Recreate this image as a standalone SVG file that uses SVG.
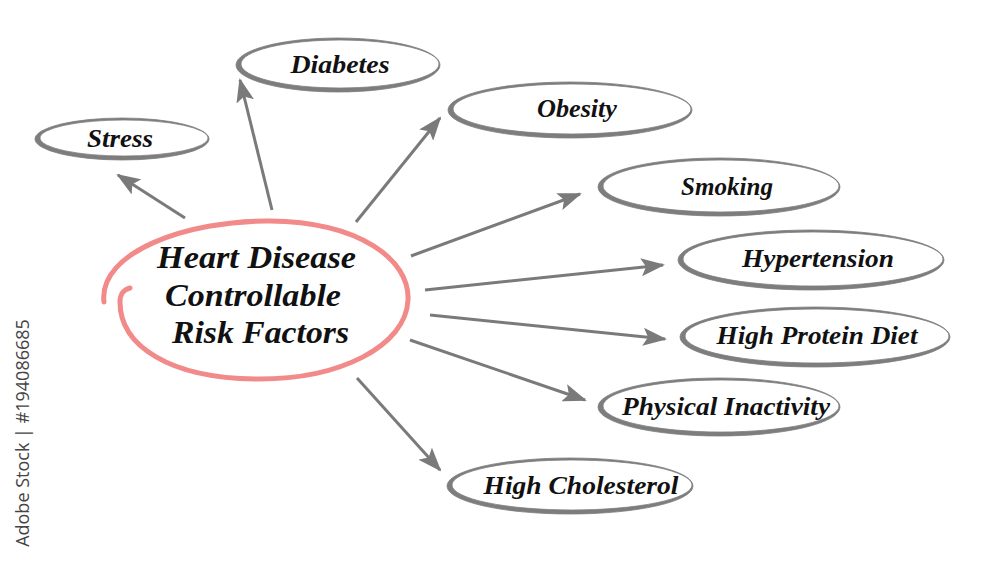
<svg xmlns="http://www.w3.org/2000/svg" width="1000" height="562" viewBox="0 0 1000 562">
<style>
.ring{fill:#7d7d7d;fill-rule:evenodd;stroke:#7d7d7d;stroke-width:0.8}
.lbl{font-family:"Liberation Serif","Times New Roman",serif;font-style:italic;font-weight:bold;font-size:25px;fill:#111;text-anchor:middle;dominant-baseline:central}
.title{font-family:"Liberation Serif","Times New Roman",serif;font-style:italic;font-weight:bold;font-size:31px;fill:#111}
.arrow{stroke:#7a7a7a;stroke-width:3;fill:none;marker-end:url(#ah)}
</style>
<defs>
<marker id="ah" markerUnits="userSpaceOnUse" viewBox="0 0 24 18" refX="22" refY="9" markerWidth="24" markerHeight="18" orient="auto">
<path d="M0,0 L24,9 L0,18 L5,9 z" fill="#7a7a7a"/>
</marker>
</defs>
<rect width="1000" height="562" fill="#ffffff"/>
<g id="connectors">
<line class="arrow" x1="185" y1="218" x2="118" y2="175"/>
<line class="arrow" x1="272" y1="210" x2="240" y2="80"/>
<line class="arrow" x1="356" y1="222" x2="440" y2="118"/>
<line class="arrow" x1="411" y1="256" x2="580" y2="194"/>
<line class="arrow" x1="425" y1="290" x2="663" y2="265"/>
<line class="arrow" x1="430" y1="315" x2="665" y2="339"/>
<line class="arrow" x1="410" y1="340" x2="585" y2="400"/>
<line class="arrow" x1="357" y1="378" x2="440" y2="470"/>
</g>
<g id="center">
<path d="M104,302 C98,252 188,220 270,221 C360,222 410,260 408,300 C406,346 340,380 255,379 C170,378 120,346 120,302 C120,294 123,290 130,288" fill="none" stroke="#f28a8a" stroke-width="5" stroke-linecap="round"/>
<text class="title" x="157" y="268" textLength="199" lengthAdjust="spacingAndGlyphs">Heart Disease</text>
<text class="title" x="165" y="306" textLength="176" lengthAdjust="spacingAndGlyphs">Controllable</text>
<text class="title" x="172" y="343" textLength="177" lengthAdjust="spacingAndGlyphs">Risk Factors</text>
</g>
<g id="stress">
<path class="ring" d="M35,139 a87,21 0 1,0 174,0 a87,21 0 1,0 -174,0z M40,138 a84,18 0 1,0 168,0 a84,18 0 1,0 -168,0z"/>
<text class="lbl" x="120" y="138" textLength="66" lengthAdjust="spacingAndGlyphs">Stress</text>
</g>
<g id="diabetes">
<path class="ring" d="M236,65 a102,27 0 1,0 204,0 a102,27 0 1,0 -204,0z M241,64 a99,24 0 1,0 198,0 a99,24 0 1,0 -198,0z"/>
<text class="lbl" x="340" y="64" textLength="99" lengthAdjust="spacingAndGlyphs">Diabetes</text>
</g>
<g id="obesity">
<path class="ring" d="M448,110 a122,28 0 1,0 244,0 a122,28 0 1,0 -244,0z M453,109 a119,25 0 1,0 238,0 a119,25 0 1,0 -238,0z"/>
<text class="lbl" x="577" y="108" textLength="80" lengthAdjust="spacingAndGlyphs">Obesity</text>
</g>
<g id="smoking">
<path class="ring" d="M598,187 a121,29 0 1,0 242,0 a121,29 0 1,0 -242,0z M603,186 a118,26 0 1,0 236,0 a118,26 0 1,0 -236,0z"/>
<text class="lbl" x="727" y="186" textLength="92" lengthAdjust="spacingAndGlyphs">Smoking</text>
</g>
<g id="hypertension">
<path class="ring" d="M678,260 a133,30 0 1,0 266,0 a133,30 0 1,0 -266,0z M683,259 a130,27 0 1,0 260,0 a130,27 0 1,0 -260,0z"/>
<text class="lbl" x="818" y="258" textLength="152" lengthAdjust="spacingAndGlyphs">Hypertension</text>
</g>
<g id="high-protein-diet">
<path class="ring" d="M680,337 a135,30 0 1,0 270,0 a135,30 0 1,0 -270,0z M685,336 a132,27 0 1,0 264,0 a132,27 0 1,0 -264,0z"/>
<text class="lbl" x="817" y="335" textLength="201" lengthAdjust="spacingAndGlyphs">High Protein Diet</text>
</g>
<g id="physical-inactivity">
<path class="ring" d="M598,407 a121,29 0 1,0 242,0 a121,29 0 1,0 -242,0z M603,406 a118,26 0 1,0 236,0 a118,26 0 1,0 -236,0z"/>
<text class="lbl" x="726" y="406" textLength="208" lengthAdjust="spacingAndGlyphs">Physical Inactivity</text>
</g>
<g id="high-cholesterol">
<path class="ring" d="M447,486 a123,28 0 1,0 246,0 a123,28 0 1,0 -246,0z M452,485 a120,25 0 1,0 240,0 a120,25 0 1,0 -240,0z"/>
<text class="lbl" x="581" y="485" textLength="195" lengthAdjust="spacingAndGlyphs">High Cholesterol</text>
</g>
<text x="0" y="0" transform="translate(29,433) rotate(-90)" font-family="'Open Sans','DejaVu Sans',sans-serif" font-size="18" fill="#444" text-anchor="middle">Adobe Stock | #194086685</text>
</svg>
